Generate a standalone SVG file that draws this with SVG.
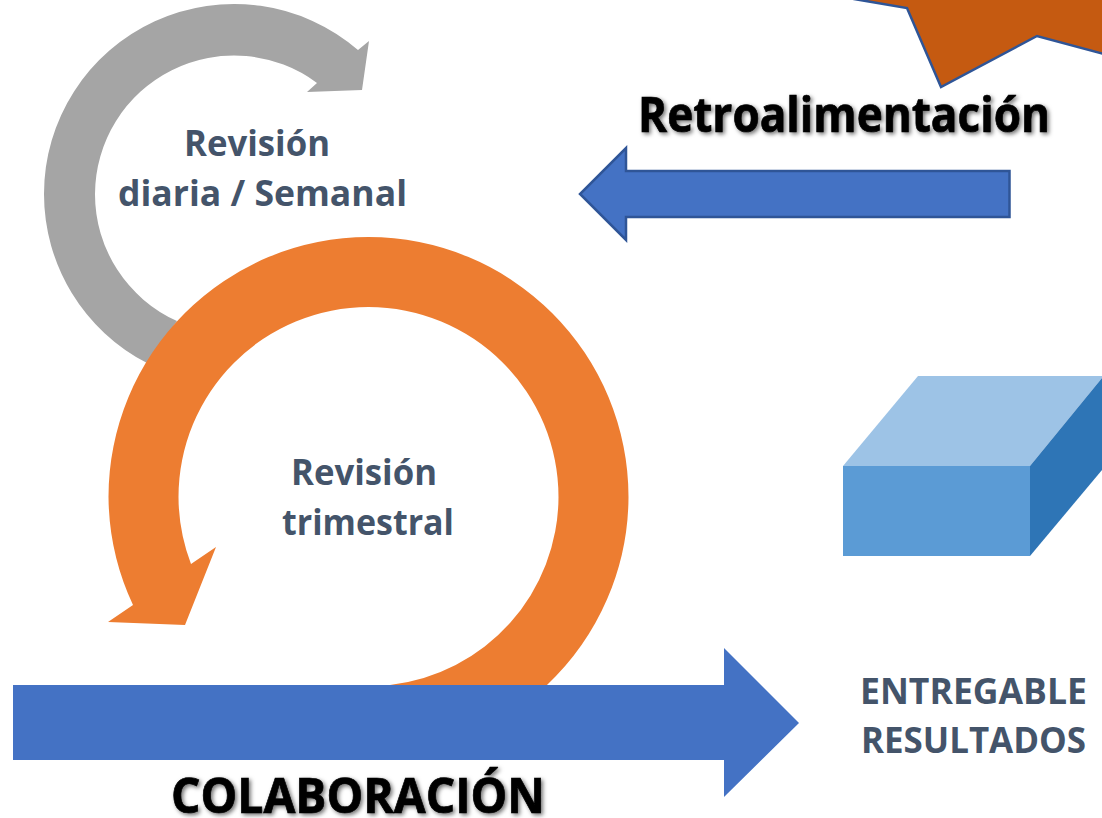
<svg xmlns="http://www.w3.org/2000/svg" width="1102" height="818" viewBox="0 0 1102 818">
<style>
text{font-family:"Open Sans","Noto Sans","Liberation Sans",sans-serif;font-weight:700;text-anchor:middle}
.lab{fill:#44546A;font-size:35.5px}
.big{fill:#000;font-size:47.5px;stroke:#000;stroke-width:0.7px;filter:url(#sh)}
.blue{fill:#4472C4}
.edge{stroke:#2F5597;stroke-width:2.5;stroke-linejoin:miter}
</style>
<defs><filter id="sh" x="-5%" y="-20%" width="110%" height="140%"><feDropShadow dx="2" dy="2" stdDeviation="2" flood-color="#000" flood-opacity="0.55"/></filter></defs>
<rect width="1102" height="818" fill="#fff"/>
<g id="star"><path d="M854 -1L907 8L941 87L1037 36L1104 54L1104 -3L854 -3Z" fill="#C55A11" class="edge"/></g>
<g id="gray-cycle"><path d="M147 363A190 190 0 0 1 44 194A190 190 0 0 1 358 50L369 41L362 90L307 92L317 83A139 139 0 0 0 95 194A139 139 0 0 0 177 321Z" fill="#A5A5A5"/></g>
<g id="orange-cycle"><path d="M547 685A260 260 0 0 0 628.5 497A260 260 0 0 0 108.5 497A260 260 0 0 0 133 605L108 622L185 625L216 547L191 564A190 190 0 0 1 178.5 497A190 190 0 0 1 558.5 497A190 190 0 0 1 390 685L390 700L547 700Z" fill="#ED7D31"/></g>
<g id="connectors">
<path class="blue" d="M13 685H724V648L799 723L724 797V760H13Z"/>
<path class="blue edge" d="M1009.5 171H626V148L580 194L626 240V217H1009.5Z"/>
</g>
<g id="block">
<path d="M843 466H1030V556H843Z" fill="#5B9BD5"/>
<path d="M843 466L918 376H1102V378L1030 466Z" fill="#9DC3E6"/>
<path d="M1030 466L1102 378V470L1030 556Z" fill="#2E75B6"/>
</g>
<g id="t-diaria"><text class="lab" x="257" y="156" textLength="146" lengthAdjust="spacingAndGlyphs">Revisión</text><text class="lab" x="262.5" y="206" textLength="289" lengthAdjust="spacingAndGlyphs">diaria / Semanal</text></g>
<g id="t-trimestral"><text class="lab" x="364" y="485" textLength="146" lengthAdjust="spacingAndGlyphs">Revisión</text><text class="lab" x="368" y="535" textLength="172" lengthAdjust="spacingAndGlyphs">trimestral</text></g>
<g id="t-retro"><text class="big" x="844" y="132" textLength="412" lengthAdjust="spacingAndGlyphs">Retroalimentación</text></g>
<g id="t-colab"><text class="big" x="358" y="813" textLength="374" lengthAdjust="spacingAndGlyphs">COLABORACIÓN</text></g>
<g id="t-entregable"><text class="lab" x="973.5" y="704" textLength="227" lengthAdjust="spacingAndGlyphs">ENTREGABLE</text><text class="lab" x="973.5" y="753" textLength="225" lengthAdjust="spacingAndGlyphs">RESULTADOS</text></g>
</svg>
